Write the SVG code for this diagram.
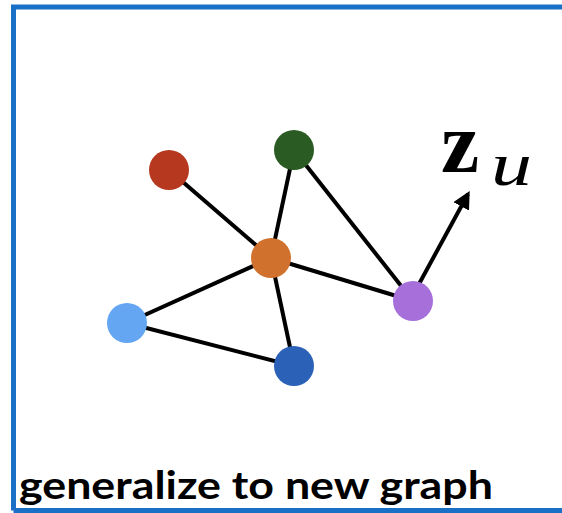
<svg xmlns="http://www.w3.org/2000/svg" width="562" height="513" viewBox="0 0 562 513">
<style>
.edge{stroke:#000;stroke-width:4;fill:none}
.lbl{font-family:Lato,"Liberation Sans",Arial,sans-serif;font-weight:bold;fill:#000}
.math{font-family:"Liberation Serif","Times New Roman",serif;fill:#000}
</style>
<defs>
<marker id="ah" viewBox="0 0 10 10" refX="8" refY="5" markerWidth="4.4" markerHeight="4.4" orient="auto" markerUnits="strokeWidth">
<path d="M0,0 L10,5 L0,10 z" fill="#000"/>
</marker>
</defs>
<rect x="0" y="0" width="562" height="513" fill="#fff"/>
<path d="M13.5,510.5 V7 H570" fill="none" stroke="#1A70C6" stroke-width="5"/>
<line x1="13.5" y1="510.5" x2="562" y2="510.5" stroke="#1A70C6" stroke-width="5"/>
<g id="connectors">
<line class="edge" x1="169" y1="170" x2="271" y2="258"/>
<line class="edge" x1="294" y1="150" x2="271" y2="258"/>
<line class="edge" x1="294" y1="150" x2="413" y2="301"/>
<line class="edge" x1="271" y1="258" x2="413" y2="301"/>
<line class="edge" x1="271" y1="258" x2="127" y2="323"/>
<line class="edge" x1="271" y1="258" x2="294" y2="366"/>
<line class="edge" x1="127" y1="323" x2="294" y2="366"/>
<line class="edge" x1="419" y1="284" x2="468" y2="194" stroke-width="4.5" marker-end="url(#ah)"/>
</g>
<g id="n-red"><circle cx="169" cy="170" r="20" fill="#B5381F"/></g>
<g id="n-green"><circle cx="294" cy="150" r="20" fill="#2A5B22"/></g>
<g id="n-orange"><circle cx="271" cy="258" r="20" fill="#D0722E"/></g>
<g id="n-lightblue"><circle cx="127" cy="323" r="20" fill="#64A6F2"/></g>
<g id="n-darkblue"><circle cx="294" cy="366" r="20" fill="#2B62B8"/></g>
<g id="n-purple"><circle cx="413" cy="301" r="20" fill="#A66FDA"/></g>
<g id="zu">
<text class="math" x="441" y="172" font-size="86" font-weight="bold">z</text>
<text class="math" x="491" y="185" font-size="62" font-style="italic" textLength="41" lengthAdjust="spacingAndGlyphs">u</text>
</g>
<text class="lbl" x="19" y="499" font-size="39" textLength="474" lengthAdjust="spacingAndGlyphs">generalize to new graph</text>
</svg>
